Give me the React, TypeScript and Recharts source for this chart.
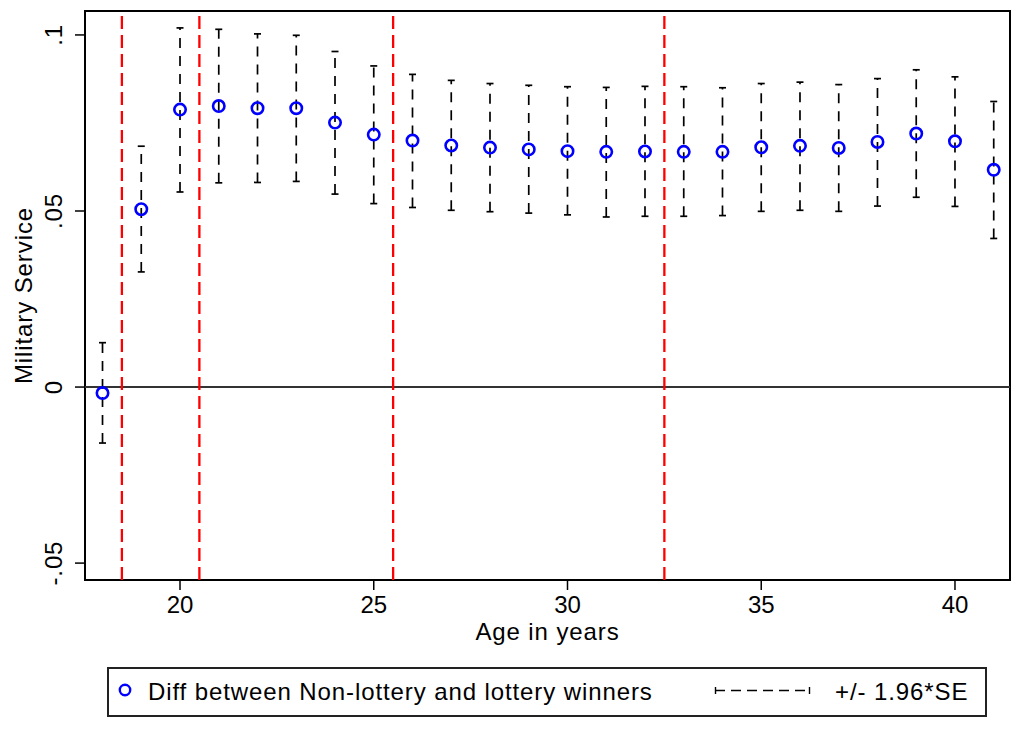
import React from "react";
import {
  ScatterChart,
  Scatter,
  XAxis,
  YAxis,
  ErrorBar,
  ReferenceLine,
  ReferenceArea,
  Legend,
} from "recharts";

/* ---------------------------------------------------------------
   Military service: lottery vs non-lottery winners, by age
   point estimates with +/- 1.96*SE bands
   --------------------------------------------------------------- */

const ages = [
  18, 19, 20, 21, 22, 23, 24, 25, 26, 27, 28, 29, 30, 31, 32, 33, 34, 35, 36,
  37, 38, 39, 40, 41,
];
const estimates = [
  -0.0017, 0.0505, 0.0788, 0.0798, 0.0792, 0.0792, 0.0751, 0.0717, 0.07,
  0.0686, 0.068, 0.0675, 0.067, 0.0668, 0.0669, 0.0668, 0.0668, 0.0681, 0.0685,
  0.0679, 0.0696, 0.072, 0.0698, 0.0617,
];
const lowerBounds = [
  -0.0159, 0.0327, 0.0554, 0.058, 0.0581, 0.0584, 0.0548, 0.0521, 0.051,
  0.0502, 0.0498, 0.0494, 0.0489, 0.0483, 0.0485, 0.0485, 0.0487, 0.0499,
  0.0502, 0.0499, 0.0514, 0.0539, 0.0513, 0.0422,
];
const upperBounds = [
  0.0126, 0.0684, 0.102, 0.1016, 0.1003, 0.0999, 0.0953, 0.0912, 0.0888,
  0.0871, 0.0862, 0.0857, 0.0853, 0.0851, 0.0854, 0.0853, 0.085, 0.0862,
  0.0866, 0.0859, 0.0876, 0.0901, 0.0881, 0.0811,
];

// cohort cut-offs (red dashed lines)
const cohortBreaks = [18.5, 20.5, 25.5, 32.5];

const xTicks = [20, 25, 30, 35, 40];
const yTicks = [-0.05, 0, 0.05, 0.1];
const yTickLabels = ["-.05", "0", ".05", ".1"];

const xDomain: [number, number] = [17.548, 41.42];
const yDomain: [number, number] = [-0.0548, 0.1068];

const legendLabels = [
  "Diff between Non-lottery and lottery winners",
  "+/- 1.96*SE",
];

const FONT = '"Liberation Sans", Arial, Helvetica, sans-serif';
const BLUE = "#0000ff";
const SPACING = 0.9;

const rows = ages.map((age, i) => ({
  age,
  est: estimates[i],
  err: [estimates[i] - lowerBounds[i], upperBounds[i] - estimates[i]],
}));

/* --- custom pieces ------------------------------------------------ */

const YTick = (props: any) => {
  const { x, y, payload } = props;
  const idx = yTicks.indexOf(payload.value);
  const label = idx >= 0 ? yTickLabels[idx] : String(payload.value);
  return (
    <text
      x={x}
      y={y}
      transform={`rotate(-90 ${x} ${y})`}
      textAnchor="middle"
      fontSize={24}
      fill="#000"
      style={{ letterSpacing: SPACING }}
    >
      {label}
    </text>
  );
};

const YTitle = (props: any) => {
  const vb = props.viewBox || { x: 0, y: 0, width: 85, height: 569 };
  const cx = vb.x + 32;
  const cy = vb.y + vb.height / 2;
  return (
    <text
      x={cx}
      y={cy}
      transform={`rotate(-90 ${cx} ${cy})`}
      textAnchor="middle"
      fontSize={24}
      fill="#000"
      style={{ letterSpacing: SPACING }}
    >
      Military Service
    </text>
  );
};

const Marker = (props: any) => (
  <circle
    cx={props.cx}
    cy={props.cy}
    r={5.7}
    fill="none"
    stroke={BLUE}
    strokeWidth={2.6}
  />
);

const LegendBox = () => (
  <svg width={880} height={50} style={{ display: "block" }}>
    <rect
      x={1}
      y={1}
      width={878}
      height={48}
      fill="#fff"
      stroke="#222"
      strokeWidth={2}
    />
    <circle cx={18} cy={23} r={5.2} fill="none" stroke={BLUE} strokeWidth={2.4} />
    <text x={41} y={33} fontSize={24} fill="#000" style={{ letterSpacing: SPACING }}>
      {legendLabels[0]}
    </text>
    {/* error bar key: |- - - - -| */}
    <line x1={608.5} y1={20} x2={608.5} y2={27} stroke="#000" strokeWidth={1.4} />
    <line x1={702.5} y1={20} x2={702.5} y2={27} stroke="#000" strokeWidth={1.4} />
    <line
      x1={608}
      y1={23.5}
      x2={703}
      y2={23.5}
      stroke="#000"
      strokeWidth={1.4}
      strokeDasharray="10 6"
    />
    <text x={728} y={33} fontSize={24} fill="#000" style={{ letterSpacing: SPACING }}>
      {legendLabels[1]}
    </text>
  </svg>
);

/* --- chart -------------------------------------------------------- */

export default function App() {
  return (
    <div
      style={{
        position: "absolute",
        left: 0,
        top: 0,
        width: 1013,
        height: 730,
        background: "#fff",
        fontFamily: FONT,
      }}
    >
      <ScatterChart
        width={1013}
        height={730}
        margin={{ top: 11, right: 3, bottom: 80, left: 0 }}
        style={{ fontFamily: FONT }}
      >
        <XAxis
          type="number"
          dataKey="age"
          domain={xDomain}
          allowDataOverflow
          ticks={xTicks}
          height={70}
          axisLine={false}
          tickLine={{ stroke: "#000", strokeWidth: 1.5 }}
          tickSize={10}
          tickMargin={6}
          tick={{ fill: "#000", fontSize: 24 }}
          label={{
            value: "Age in years",
            position: "insideTop",
            offset: 43,
            fill: "#000",
            fontSize: 24,
            style: { letterSpacing: SPACING },
          }}
        />
        <YAxis
          type="number"
          dataKey="est"
          domain={yDomain}
          allowDataOverflow
          ticks={yTicks}
          width={85}
          axisLine={false}
          tickLine={{ stroke: "#000", strokeWidth: 1.5 }}
          tickSize={10}
          tickMargin={13}
          tick={<YTick />}
          label={(p: any) => <YTitle {...p} />}
        />

        {/* zero line */}
        <ReferenceLine y={0} stroke="#333" strokeWidth={2} />

        {cohortBreaks.map((b) => (
          <ReferenceLine
            key={b}
            x={b}
            stroke="#ff0000"
            strokeWidth={2.3}
            strokeDasharray="13 6"
          />
        ))}

        <Scatter
          data={rows}
          dataKey="est"
          shape={<Marker />}
          isAnimationActive={false}
        >
          <ErrorBar
            dataKey="err"
            direction="y"
            width={3.5}
            stroke="#000"
            strokeWidth={1.7}
            strokeDasharray="10 8"
            isAnimationActive={false}
          />
        </Scatter>

        {/* plot region frame */}
        <ReferenceArea
          x1={xDomain[0]}
          x2={xDomain[1]}
          y1={yDomain[0]}
          y2={yDomain[1]}
          fill="none"
          stroke="#000"
          strokeWidth={2}
          ifOverflow="visible"
        />

        <Legend
          layout="horizontal"
          verticalAlign="middle"
          align="center"
          wrapperStyle={{ left: 107, top: 667, width: 880, height: 50 }}
          content={() => <LegendBox />}
        />
      </ScatterChart>
    </div>
  );
}
